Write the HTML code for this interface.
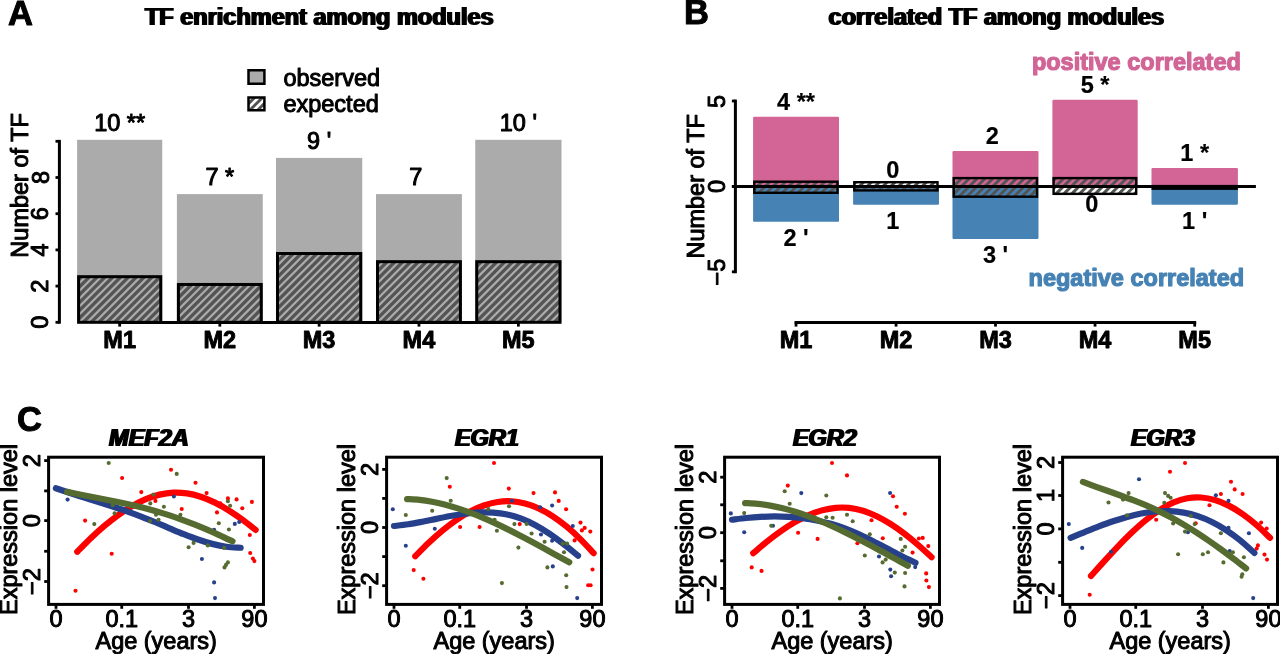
<!DOCTYPE html>
<html lang="en"><head><meta charset="utf-8"><title>TF enrichment among modules</title>
<style>
html,body{margin:0;padding:0;background:#fff;overflow:hidden}
svg{display:block}
text{font-family:"Liberation Sans", Arial, Helvetica, sans-serif;font-size:23.5px;fill:#000}
text{stroke-linejoin:round}
.r{font-weight:400;stroke:#000;stroke-width:1px}
.b{font-weight:700;stroke:#000;stroke-width:.2px}
.m{font-weight:700;stroke:#000;stroke-width:.9px}
.t{font-weight:700}
.bi{font-weight:700;font-style:italic}
.pl{font-weight:700;font-size:34.5px;stroke:#000;stroke-width:1px}
.pk{font-weight:700;fill:#d26496;stroke:#d26496;stroke-width:1.2px}
.bl{font-weight:700;fill:#4682b4;stroke:#4682b4;stroke-width:1.2px}
</style></head><body>
<svg width="1280" height="654" viewBox="0 0 1280 654">
<defs>
<filter id="emb" x="-5%" y="-25%" width="110%" height="150%"><feMorphology operator="dilate" radius="1 0"/></filter>
</defs>
<rect x="0" y="0" width="1280" height="654" fill="#fff"/>
<g id="panelA">
<text class="pl" x="8" y="24.5" text-anchor="start">A</text>
<text class="t" x="319.3" y="25.1" text-anchor="middle" filter="url(#emb)">TF enrichment among modules</text>
<rect x="77.1" y="139.8" width="85.15" height="182.5" fill="#ababab"/>
<rect x="176.9" y="194.1" width="85.85" height="128.2" fill="#ababab"/>
<rect x="276" y="157.9" width="86.25" height="164.4" fill="#ababab"/>
<rect x="376" y="194.1" width="85.9" height="128.2" fill="#ababab"/>
<rect x="475.25" y="139.8" width="86.25" height="182.5" fill="#ababab"/>
<clipPath id="hc1">
<rect x="78.6" y="276.69" width="82.15" height="45.61"/>
<rect x="178.4" y="284.47" width="82.85" height="37.83"/>
<rect x="277.5" y="253.52" width="83.25" height="68.78"/>
<rect x="377.5" y="261.67" width="82.9" height="60.63"/>
<rect x="476.75" y="261.67" width="83.25" height="60.63"/>
</clipPath>
<path clip-path="url(#hc1)" d="M18.45 324.3L68.06 274.69M26.3 324.3L75.91 274.69M34.15 324.3L83.76 274.69M42 324.3L91.61 274.69M49.85 324.3L99.46 274.69M57.7 324.3L107.31 274.69M65.55 324.3L115.16 274.69M73.4 324.3L123.01 274.69M81.25 324.3L130.86 274.69M89.1 324.3L138.71 274.69M96.95 324.3L146.56 274.69M104.8 324.3L154.41 274.69M112.65 324.3L162.26 274.69M120.5 324.3L170.11 274.69M128.35 324.3L177.96 274.69M136.2 324.3L185.81 274.69M144.05 324.3L193.66 274.69M151.9 324.3L201.51 274.69M159.75 324.3L209.36 274.69M167.6 324.3L217.21 274.69M128.35 324.3L170.18 282.47M136.2 324.3L178.03 282.47M144.05 324.3L185.88 282.47M151.9 324.3L193.73 282.47M159.75 324.3L201.58 282.47M167.6 324.3L209.43 282.47M175.45 324.3L217.28 282.47M183.3 324.3L225.13 282.47M191.15 324.3L232.98 282.47M199 324.3L240.83 282.47M206.85 324.3L248.68 282.47M214.7 324.3L256.53 282.47M222.55 324.3L264.38 282.47M230.4 324.3L272.23 282.47M238.25 324.3L280.08 282.47M246.1 324.3L287.93 282.47M253.95 324.3L295.78 282.47M261.8 324.3L303.63 282.47M269.65 324.3L311.48 282.47M191.15 324.3L263.93 251.52M199 324.3L271.78 251.52M206.85 324.3L279.63 251.52M214.7 324.3L287.48 251.52M222.55 324.3L295.33 251.52M230.4 324.3L303.18 251.52M238.25 324.3L311.03 251.52M246.1 324.3L318.88 251.52M253.95 324.3L326.73 251.52M261.8 324.3L334.58 251.52M269.65 324.3L342.43 251.52M277.5 324.3L350.28 251.52M285.35 324.3L358.13 251.52M293.2 324.3L365.98 251.52M301.05 324.3L373.83 251.52M308.9 324.3L381.68 251.52M316.75 324.3L389.53 251.52M324.6 324.3L397.38 251.52M332.45 324.3L405.23 251.52M340.3 324.3L413.08 251.52M348.15 324.3L420.93 251.52M356 324.3L428.78 251.52M363.85 324.3L436.63 251.52M371.7 324.3L444.48 251.52M301.05 324.3L365.69 259.67M308.9 324.3L373.54 259.67M316.75 324.3L381.39 259.67M324.6 324.3L389.23 259.67M332.45 324.3L397.08 259.67M340.3 324.3L404.94 259.67M348.15 324.3L412.79 259.67M356 324.3L420.64 259.67M363.85 324.3L428.48 259.67M371.7 324.3L436.33 259.67M379.55 324.3L444.19 259.67M387.4 324.3L452.04 259.67M395.25 324.3L459.89 259.67M403.1 324.3L467.73 259.67M410.95 324.3L475.58 259.67M418.8 324.3L483.44 259.67M426.65 324.3L491.29 259.67M434.5 324.3L499.13 259.67M442.35 324.3L506.98 259.67M450.2 324.3L514.84 259.67M458.05 324.3L522.68 259.67M465.9 324.3L530.54 259.67M473.75 324.3L538.38 259.67M403.1 324.3L467.73 259.67M410.95 324.3L475.58 259.67M418.8 324.3L483.44 259.67M426.65 324.3L491.29 259.67M434.5 324.3L499.13 259.67M442.35 324.3L506.98 259.67M450.2 324.3L514.84 259.67M458.05 324.3L522.68 259.67M465.9 324.3L530.54 259.67M473.75 324.3L538.38 259.67M481.6 324.3L546.23 259.67M489.45 324.3L554.09 259.67M497.3 324.3L561.93 259.67M505.15 324.3L569.79 259.67M513 324.3L577.63 259.67M520.85 324.3L585.48 259.67M528.7 324.3L593.34 259.67M536.55 324.3L601.18 259.67M544.4 324.3L609.04 259.67M552.25 324.3L616.88 259.67M560.1 324.3L624.73 259.67M567.95 324.3L632.59 259.67" stroke="#545454" stroke-width="3.3" fill="none"/>
<rect x="78.6" y="276.69" width="82.15" height="45.61" fill="none" stroke="#000" stroke-width="3"/>
<text class="r" x="119.67" y="131.05" text-anchor="middle">10 **</text>
<rect x="178.4" y="284.47" width="82.85" height="37.83" fill="none" stroke="#000" stroke-width="3"/>
<text class="r" x="219.82" y="185.35" text-anchor="middle">7 *</text>
<rect x="277.5" y="253.52" width="83.25" height="68.78" fill="none" stroke="#000" stroke-width="3"/>
<text class="r" x="319.12" y="149.15" text-anchor="middle">9 '</text>
<rect x="377.5" y="261.67" width="82.9" height="60.63" fill="none" stroke="#000" stroke-width="3"/>
<text class="r" x="415.68" y="185.35" text-anchor="middle">7</text>
<rect x="476.75" y="261.67" width="83.25" height="60.63" fill="none" stroke="#000" stroke-width="3"/>
<text class="r" x="518.38" y="131.05" text-anchor="middle">10 '</text>
<line x1="118.17" y1="322.5" x2="519.88" y2="322.5" stroke="#000" stroke-width="3" stroke-linecap="butt"/>
<line x1="119.67" y1="322.5" x2="119.67" y2="326.6" stroke="#000" stroke-width="2.8" stroke-linecap="butt"/>
<text class="m" x="119.67" y="347.5" text-anchor="middle">M1</text>
<line x1="219.82" y1="322.5" x2="219.82" y2="326.6" stroke="#000" stroke-width="2.8" stroke-linecap="butt"/>
<text class="m" x="219.82" y="347.5" text-anchor="middle">M2</text>
<line x1="319.12" y1="322.5" x2="319.12" y2="326.6" stroke="#000" stroke-width="2.8" stroke-linecap="butt"/>
<text class="m" x="319.12" y="347.5" text-anchor="middle">M3</text>
<line x1="418.95" y1="322.5" x2="418.95" y2="326.6" stroke="#000" stroke-width="2.8" stroke-linecap="butt"/>
<text class="m" x="418.95" y="347.5" text-anchor="middle">M4</text>
<line x1="518.38" y1="322.5" x2="518.38" y2="326.6" stroke="#000" stroke-width="2.8" stroke-linecap="butt"/>
<text class="m" x="518.38" y="347.5" text-anchor="middle">M5</text>
<line x1="59.4" y1="139.9" x2="59.4" y2="323.7" stroke="#000" stroke-width="3" stroke-linecap="butt"/>
<line x1="55.5" y1="322.3" x2="59.4" y2="322.3" stroke="#000" stroke-width="2.8" stroke-linecap="butt"/>
<line x1="55.5" y1="286.1" x2="59.4" y2="286.1" stroke="#000" stroke-width="2.8" stroke-linecap="butt"/>
<line x1="55.5" y1="249.9" x2="59.4" y2="249.9" stroke="#000" stroke-width="2.8" stroke-linecap="butt"/>
<line x1="55.5" y1="213.7" x2="59.4" y2="213.7" stroke="#000" stroke-width="2.8" stroke-linecap="butt"/>
<line x1="55.5" y1="177.5" x2="59.4" y2="177.5" stroke="#000" stroke-width="2.8" stroke-linecap="butt"/>
<line x1="55.5" y1="141.3" x2="59.4" y2="141.3" stroke="#000" stroke-width="2.8" stroke-linecap="butt"/>
<text class="r" x="48.5" y="322.3" text-anchor="middle" transform="rotate(-90 48.5 322.3)">0</text>
<text class="r" x="48.5" y="286.1" text-anchor="middle" transform="rotate(-90 48.5 286.1)">2</text>
<text class="r" x="48.5" y="249.9" text-anchor="middle" transform="rotate(-90 48.5 249.9)">4</text>
<text class="r" x="48.5" y="213.7" text-anchor="middle" transform="rotate(-90 48.5 213.7)">6</text>
<text class="r" x="48.5" y="177.5" text-anchor="middle" transform="rotate(-90 48.5 177.5)">8</text>
<text class="r" x="28.1" y="185.4" text-anchor="middle" transform="rotate(-90 28.1 185.4)">Number of TF</text>
<rect x="248.5" y="70.25" width="15.9" height="13.5" fill="#ababab" stroke="#000" stroke-width="2.5"/>
<rect x="248.5" y="97.5" width="15.9" height="12.75" fill="#fff"/>
<clipPath id="hc2">
<rect x="248.5" y="97.5" width="15.9" height="12.75"/>
</clipPath>
<path clip-path="url(#hc2)" d="M224.2 112.25L240.95 95.5M232.05 112.25L248.8 95.5M239.9 112.25L256.65 95.5M247.75 112.25L264.5 95.5M255.6 112.25L272.35 95.5M263.45 112.25L280.2 95.5M271.3 112.25L288.05 95.5" stroke="#545454" stroke-width="2.9" fill="none"/>
<rect x="248.5" y="97.5" width="15.9" height="12.75" fill="none" stroke="#000" stroke-width="2.5"/>
<text class="r" x="283.4" y="85.6" text-anchor="start">observed</text>
<text class="r" x="283.4" y="111.9" text-anchor="start">expected</text>
</g>
<g id="panelB">
<text class="pl" x="683.9" y="24.4" text-anchor="start">B</text>
<text class="t" x="996.4" y="25" text-anchor="middle" filter="url(#emb)">correlated TF among modules</text>
<rect x="753.1" y="116.78" width="85.9" height="69.62" fill="#d26496" rx="1.2"/>
<rect x="753.1" y="186.4" width="85.9" height="35.46" fill="#4682b4" rx="1.2"/>
<rect x="853.1" y="186.4" width="85.9" height="18.38" fill="#4682b4" rx="1.2"/>
<rect x="952.5" y="150.94" width="86" height="35.46" fill="#d26496" rx="1.2"/>
<rect x="952.5" y="186.4" width="86" height="52.54" fill="#4682b4" rx="1.2"/>
<rect x="1052.4" y="99.7" width="85.3" height="86.7" fill="#d26496" rx="1.2"/>
<rect x="1151.5" y="168.02" width="86.4" height="18.38" fill="#d26496" rx="1.2"/>
<rect x="1151.5" y="186.4" width="86.4" height="18.38" fill="#4682b4" rx="1.2"/>
<clipPath id="hc3">
<rect x="754.3" y="181.7" width="83.2" height="11.1"/>
<rect x="854.3" y="182.2" width="83.2" height="8.2"/>
<rect x="953.7" y="178.1" width="83.3" height="18.6"/>
<rect x="1053.6" y="178.1" width="82.6" height="15.76"/>
</clipPath>
<path clip-path="url(#hc3)" d="M733.2 194.8L748.3 179.7M741.05 194.8L756.15 179.7M748.9 194.8L764 179.7M756.75 194.8L771.85 179.7M764.6 194.8L779.7 179.7M772.45 194.8L787.55 179.7M780.3 194.8L795.4 179.7M788.15 194.8L803.25 179.7M796 194.8L811.1 179.7M803.85 194.8L818.95 179.7M811.7 194.8L826.8 179.7M819.55 194.8L834.65 179.7M827.4 194.8L842.5 179.7M835.25 194.8L850.35 179.7M843.1 194.8L858.2 179.7M850.95 194.8L866.05 179.7M829.8 192.4L842 180.2M837.65 192.4L849.85 180.2M845.5 192.4L857.7 180.2M853.35 192.4L865.55 180.2M861.2 192.4L873.4 180.2M869.05 192.4L881.25 180.2M876.9 192.4L889.1 180.2M884.75 192.4L896.95 180.2M892.6 192.4L904.8 180.2M900.45 192.4L912.65 180.2M908.3 192.4L920.5 180.2M916.15 192.4L928.35 180.2M924 192.4L936.2 180.2M931.85 192.4L944.05 180.2M939.7 192.4L951.9 180.2M947.55 192.4L959.75 180.2M917.7 198.7L940.3 176.1M925.55 198.7L948.15 176.1M933.4 198.7L956 176.1M941.25 198.7L963.85 176.1M949.1 198.7L971.7 176.1M956.95 198.7L979.55 176.1M964.8 198.7L987.4 176.1M972.65 198.7L995.25 176.1M980.5 198.7L1003.1 176.1M988.35 198.7L1010.95 176.1M996.2 198.7L1018.8 176.1M1004.05 198.7L1026.65 176.1M1011.9 198.7L1034.5 176.1M1019.75 198.7L1042.35 176.1M1027.6 198.7L1050.2 176.1M1035.45 198.7L1058.05 176.1M1043.3 198.7L1065.9 176.1M1022.59 195.86L1042.35 176.1M1030.44 195.86L1050.2 176.1M1038.29 195.86L1058.05 176.1M1046.14 195.86L1065.9 176.1M1053.99 195.86L1073.75 176.1M1061.84 195.86L1081.6 176.1M1069.69 195.86L1089.45 176.1M1077.54 195.86L1097.3 176.1M1085.39 195.86L1105.15 176.1M1093.24 195.86L1113 176.1M1101.09 195.86L1120.85 176.1M1108.94 195.86L1128.7 176.1M1116.79 195.86L1136.55 176.1M1124.64 195.86L1144.4 176.1M1132.49 195.86L1152.25 176.1M1140.34 195.86L1160.1 176.1M1148.19 195.86L1167.95 176.1" stroke="#545454" stroke-width="2.95" fill="none"/>
<rect x="754.3" y="181.7" width="83.2" height="11.1" fill="none" stroke="#000" stroke-width="2.4"/>
<rect x="854.3" y="182.2" width="83.2" height="8.2" fill="none" stroke="#000" stroke-width="2.4"/>
<rect x="953.7" y="178.1" width="83.3" height="18.6" fill="none" stroke="#000" stroke-width="2.4"/>
<rect x="1053.6" y="178.1" width="82.6" height="15.76" fill="none" stroke="#000" stroke-width="2.4"/>
<rect x="1151.5" y="184.9" width="86.4" height="5" fill="#000"/>
<line x1="731.9" y1="186.45" x2="1255.9" y2="186.45" stroke="#000" stroke-width="2.85" stroke-linecap="butt"/>
<text class="b" x="796.05" y="109.58" text-anchor="middle">4 **</text>
<text class="b" x="796.05" y="246.06" text-anchor="middle">2 '</text>
<text class="b" x="892.78" y="177.9" text-anchor="middle">0</text>
<text class="b" x="892.78" y="228.98" text-anchor="middle">1</text>
<text class="b" x="992.23" y="143.74" text-anchor="middle">2</text>
<text class="b" x="995.5" y="263.14" text-anchor="middle">3 '</text>
<text class="b" x="1095.05" y="92.5" text-anchor="middle">5 *</text>
<text class="b" x="1091.78" y="211.9" text-anchor="middle">0</text>
<text class="b" x="1194.7" y="160.82" text-anchor="middle">1 *</text>
<text class="b" x="1194.7" y="228.98" text-anchor="middle">1 '</text>
<line x1="735.4" y1="99.6" x2="735.4" y2="273.2" stroke="#000" stroke-width="3" stroke-linecap="butt"/>
<line x1="731.9" y1="101" x2="735.4" y2="101" stroke="#000" stroke-width="2.8" stroke-linecap="butt"/>
<line x1="731.9" y1="186.4" x2="735.4" y2="186.4" stroke="#000" stroke-width="2.8" stroke-linecap="butt"/>
<line x1="731.9" y1="271.8" x2="735.4" y2="271.8" stroke="#000" stroke-width="2.8" stroke-linecap="butt"/>
<text class="r" x="724.75" y="101.4" text-anchor="middle" transform="rotate(-90 724.75 101.4)">5</text>
<text class="r" x="724.75" y="186.4" text-anchor="middle" transform="rotate(-90 724.75 186.4)">0</text>
<text class="r" x="724.75" y="272" text-anchor="middle" transform="rotate(-90 724.75 272)">−5</text>
<text class="r" x="704.2" y="186.3" text-anchor="middle" transform="rotate(-90 704.2 186.3)">Number of TF</text>
<line x1="794.55" y1="322.5" x2="1196.2" y2="322.5" stroke="#000" stroke-width="3" stroke-linecap="butt"/>
<line x1="796.05" y1="322.5" x2="796.05" y2="326.6" stroke="#000" stroke-width="2.8" stroke-linecap="butt"/>
<text class="m" x="796.05" y="347.5" text-anchor="middle">M1</text>
<line x1="896.05" y1="322.5" x2="896.05" y2="326.6" stroke="#000" stroke-width="2.8" stroke-linecap="butt"/>
<text class="m" x="896.05" y="347.5" text-anchor="middle">M2</text>
<line x1="995.5" y1="322.5" x2="995.5" y2="326.6" stroke="#000" stroke-width="2.8" stroke-linecap="butt"/>
<text class="m" x="995.5" y="347.5" text-anchor="middle">M3</text>
<line x1="1095.05" y1="322.5" x2="1095.05" y2="326.6" stroke="#000" stroke-width="2.8" stroke-linecap="butt"/>
<text class="m" x="1095.05" y="347.5" text-anchor="middle">M4</text>
<line x1="1194.7" y1="322.5" x2="1194.7" y2="326.6" stroke="#000" stroke-width="2.8" stroke-linecap="butt"/>
<text class="m" x="1194.7" y="347.5" text-anchor="middle">M5</text>
<text class="pk" x="1031.9" y="70" text-anchor="start">positive correlated</text>
<text class="bl" x="1028.6" y="286.25" text-anchor="start">negative correlated</text>
</g>
<g id="panelC">
<text class="pl" x="17.1" y="430.6" text-anchor="start">C</text>
<g id="sub1">
<circle cx="122.1" cy="478" r="2.05" fill="#ff0000"/>
<circle cx="85.1" cy="520.6" r="2.05" fill="#ff0000"/>
<circle cx="141.3" cy="492.1" r="2.05" fill="#ff0000"/>
<circle cx="155.4" cy="500.9" r="2.05" fill="#ff0000"/>
<circle cx="171" cy="469.8" r="2.05" fill="#ff0000"/>
<circle cx="195.5" cy="482.7" r="2.05" fill="#ff0000"/>
<circle cx="181.7" cy="509" r="2.05" fill="#ff0000"/>
<circle cx="206.6" cy="493.1" r="2.05" fill="#ff0000"/>
<circle cx="227.9" cy="498.4" r="2.05" fill="#ff0000"/>
<circle cx="236.6" cy="499.4" r="2.05" fill="#ff0000"/>
<circle cx="251.9" cy="501.9" r="2.05" fill="#ff0000"/>
<circle cx="242.3" cy="508.2" r="2.05" fill="#ff0000"/>
<circle cx="217" cy="512.4" r="2.05" fill="#ff0000"/>
<circle cx="220.3" cy="503.4" r="2.05" fill="#ff0000"/>
<circle cx="111.7" cy="553.8" r="2.05" fill="#ff0000"/>
<circle cx="75.5" cy="590.8" r="2.05" fill="#ff0000"/>
<circle cx="249.8" cy="535" r="2.05" fill="#ff0000"/>
<circle cx="250.2" cy="553" r="2.05" fill="#ff0000"/>
<circle cx="252.9" cy="558.6" r="2.05" fill="#ff0000"/>
<circle cx="254.4" cy="561.1" r="2.05" fill="#ff0000"/>
<path d="M77.25 551.8C79.54 549.51 86.4 542.39 90.97 538.04C95.54 533.68 100.12 529.52 104.69 525.67C109.26 521.81 113.84 518.19 118.41 514.91C122.98 511.63 127.56 508.62 132.13 506C136.7 503.38 141.28 501.06 145.85 499.17C150.42 497.28 155 495.72 159.57 494.63C164.14 493.54 168.71 492.84 173.28 492.62C177.85 492.4 182.43 492.66 187 493.34C191.57 494.02 196.15 495.19 200.72 496.7C205.29 498.2 209.87 500.15 214.44 502.37C219.01 504.59 223.59 507.2 228.16 510.02C232.73 512.84 237.31 516 241.88 519.31C246.45 522.62 253.31 528.13 255.6 529.9" fill="none" stroke="#ff0000" stroke-width="6.2" stroke-linecap="round" stroke-linejoin="round"/>
<circle cx="67.6" cy="499.6" r="2.05" fill="#27408b"/>
<circle cx="173.9" cy="496.5" r="2.05" fill="#27408b"/>
<circle cx="234.8" cy="523.9" r="2.05" fill="#27408b"/>
<circle cx="239.2" cy="522" r="2.05" fill="#27408b"/>
<circle cx="214.1" cy="529.7" r="2.05" fill="#27408b"/>
<circle cx="201.9" cy="559" r="2.05" fill="#27408b"/>
<circle cx="214.1" cy="582.4" r="2.05" fill="#27408b"/>
<circle cx="215" cy="598.1" r="2.05" fill="#27408b"/>
<path d="M55.9 488.31C58.27 489.1 65.37 491.5 70.11 493.04C74.85 494.58 79.58 496.06 84.32 497.56C89.05 499.06 93.78 500.51 98.52 502.01C103.25 503.51 107.99 505 112.73 506.55C117.47 508.11 122.2 509.67 126.94 511.34C131.68 513 136.42 514.72 141.15 516.54C145.88 518.36 150.62 520.3 155.35 522.26C160.08 524.22 164.82 526.3 169.56 528.29C174.3 530.28 179.03 532.32 183.77 534.2C188.51 536.08 193.25 537.94 197.98 539.55C202.71 541.16 207.44 542.68 212.18 543.88C216.92 545.08 221.65 546.12 226.39 546.77C231.13 547.42 238.23 547.6 240.6 547.76" fill="none" stroke="#27408b" stroke-width="6.2" stroke-linecap="round" stroke-linejoin="round"/>
<circle cx="108.7" cy="463" r="2.05" fill="#556b2f"/>
<circle cx="94.3" cy="524.1" r="2.05" fill="#556b2f"/>
<circle cx="114.6" cy="513.2" r="2.05" fill="#556b2f"/>
<circle cx="112.7" cy="505.3" r="2.05" fill="#556b2f"/>
<circle cx="153.5" cy="494.6" r="2.05" fill="#556b2f"/>
<circle cx="150.3" cy="503.4" r="2.05" fill="#556b2f"/>
<circle cx="176.7" cy="473.9" r="2.05" fill="#556b2f"/>
<circle cx="163.9" cy="506.8" r="2.05" fill="#556b2f"/>
<circle cx="180.4" cy="514.7" r="2.05" fill="#556b2f"/>
<circle cx="156" cy="514.7" r="2.05" fill="#556b2f"/>
<circle cx="158.5" cy="519.7" r="2.05" fill="#556b2f"/>
<circle cx="150.1" cy="521" r="2.05" fill="#556b2f"/>
<circle cx="227.9" cy="501.2" r="2.05" fill="#556b2f"/>
<circle cx="230.1" cy="505.7" r="2.05" fill="#556b2f"/>
<circle cx="218.8" cy="523.2" r="2.05" fill="#556b2f"/>
<circle cx="228.9" cy="529.5" r="2.05" fill="#556b2f"/>
<circle cx="188.6" cy="547.3" r="2.05" fill="#556b2f"/>
<circle cx="193.6" cy="542.9" r="2.05" fill="#556b2f"/>
<circle cx="207.8" cy="545.4" r="2.05" fill="#556b2f"/>
<circle cx="224.1" cy="547.9" r="2.05" fill="#556b2f"/>
<circle cx="227.9" cy="562.4" r="2.05" fill="#556b2f"/>
<circle cx="226" cy="564.9" r="2.05" fill="#556b2f"/>
<circle cx="224.5" cy="567.4" r="2.05" fill="#556b2f"/>
<path d="M67 491.86C69.12 492.31 75.49 493.7 79.73 494.57C83.97 495.44 88.22 496.25 92.46 497.07C96.7 497.89 100.95 498.67 105.19 499.49C109.43 500.31 113.68 501.11 117.92 501.97C122.16 502.83 126.41 503.71 130.65 504.66C134.89 505.61 139.13 506.6 143.38 507.68C147.62 508.76 151.88 509.93 156.12 511.17C160.37 512.41 164.61 513.74 168.85 515.14C173.09 516.54 177.34 518.02 181.58 519.57C185.82 521.12 190.07 522.75 194.31 524.43C198.55 526.11 202.8 527.87 207.04 529.68C211.28 531.49 215.53 533.38 219.77 535.31C224.01 537.24 230.38 540.29 232.5 541.29" fill="none" stroke="#556b2f" stroke-width="6.2" stroke-linecap="round" stroke-linejoin="round"/>
<rect x="48.6" y="457.2" width="214.9" height="147.2" fill="none" stroke="#000" stroke-width="3"/>
<line x1="56" y1="604.4" x2="56" y2="608.8" stroke="#000" stroke-width="2.8" stroke-linecap="butt"/>
<text class="r" x="56" y="627" text-anchor="middle">0</text>
<line x1="121.75" y1="604.4" x2="121.75" y2="608.8" stroke="#000" stroke-width="2.8" stroke-linecap="butt"/>
<text class="r" x="121.75" y="627" text-anchor="middle">0.1</text>
<line x1="188.5" y1="604.4" x2="188.5" y2="608.8" stroke="#000" stroke-width="2.8" stroke-linecap="butt"/>
<text class="r" x="188.5" y="627" text-anchor="middle">3</text>
<line x1="254.4" y1="604.4" x2="254.4" y2="608.8" stroke="#000" stroke-width="2.8" stroke-linecap="butt"/>
<text class="r" x="254.4" y="627" text-anchor="middle">90</text>
<text class="r" x="156.2" y="648.75" text-anchor="middle">Age (years)</text>
<line x1="44.2" y1="460.6" x2="48.6" y2="460.6" stroke="#000" stroke-width="2.8" stroke-linecap="butt"/>
<text class="r" x="39.75" y="460.6" text-anchor="middle" transform="rotate(-90 39.75 460.6)">2</text>
<line x1="44.2" y1="490.9" x2="48.6" y2="490.9" stroke="#000" stroke-width="2.8" stroke-linecap="butt"/>
<line x1="44.2" y1="520.6" x2="48.6" y2="520.6" stroke="#000" stroke-width="2.8" stroke-linecap="butt"/>
<text class="r" x="39.75" y="520.6" text-anchor="middle" transform="rotate(-90 39.75 520.6)">0</text>
<line x1="44.2" y1="551.25" x2="48.6" y2="551.25" stroke="#000" stroke-width="2.8" stroke-linecap="butt"/>
<line x1="44.2" y1="581.5" x2="48.6" y2="581.5" stroke="#000" stroke-width="2.8" stroke-linecap="butt"/>
<text class="r" x="39.75" y="581.5" text-anchor="middle" transform="rotate(-90 39.75 581.5)">−2</text>
<text class="r" x="17" y="529.5" text-anchor="middle" transform="rotate(-90 17 529.5)">Expression level</text>
<text class="bi" x="148.9" y="445.7" text-anchor="middle" filter="url(#emb)">MEF2A</text>
</g>
<g id="sub2">
<circle cx="494" cy="463" r="2.05" fill="#ff0000"/>
<circle cx="449.8" cy="486.7" r="2.05" fill="#ff0000"/>
<circle cx="508.8" cy="488.6" r="2.05" fill="#ff0000"/>
<circle cx="533.5" cy="493.1" r="2.05" fill="#ff0000"/>
<circle cx="460.1" cy="527" r="2.05" fill="#ff0000"/>
<circle cx="479.6" cy="527" r="2.05" fill="#ff0000"/>
<circle cx="519.7" cy="524.1" r="2.05" fill="#ff0000"/>
<circle cx="555" cy="492.4" r="2.05" fill="#ff0000"/>
<circle cx="558.7" cy="500.9" r="2.05" fill="#ff0000"/>
<circle cx="566.1" cy="509.3" r="2.05" fill="#ff0000"/>
<circle cx="580.5" cy="522.6" r="2.05" fill="#ff0000"/>
<circle cx="584.7" cy="527.9" r="2.05" fill="#ff0000"/>
<circle cx="581.9" cy="530.4" r="2.05" fill="#ff0000"/>
<circle cx="590.3" cy="531.6" r="2.05" fill="#ff0000"/>
<circle cx="413.7" cy="570.1" r="2.05" fill="#ff0000"/>
<circle cx="423.4" cy="578.7" r="2.05" fill="#ff0000"/>
<circle cx="592.5" cy="569.5" r="2.05" fill="#ff0000"/>
<circle cx="588.2" cy="585.3" r="2.05" fill="#ff0000"/>
<circle cx="590.6" cy="585.3" r="2.05" fill="#ff0000"/>
<circle cx="574.6" cy="540.4" r="2.05" fill="#ff0000"/>
<path d="M415.25 556.26C417.54 553.98 424.4 546.87 428.97 542.56C433.54 538.25 438.12 534.14 442.69 530.38C447.26 526.62 451.84 523.11 456.41 519.98C460.98 516.85 465.56 514.02 470.13 511.61C474.7 509.2 479.28 507.13 483.85 505.53C488.42 503.93 493 502.7 497.57 501.99C502.14 501.28 506.71 501 511.28 501.24C515.85 501.48 520.43 502.24 525 503.44C529.57 504.64 534.15 506.34 538.72 508.45C543.29 510.56 547.87 513.13 552.44 516.09C557.01 519.05 561.59 522.45 566.16 526.21C570.73 529.97 575.31 534.14 579.88 538.63C584.45 543.12 591.31 550.75 593.6 553.17" fill="none" stroke="#ff0000" stroke-width="6.2" stroke-linecap="round" stroke-linejoin="round"/>
<circle cx="392.8" cy="509.3" r="2.05" fill="#27408b"/>
<circle cx="511.9" cy="500.7" r="2.05" fill="#27408b"/>
<circle cx="434.8" cy="528.7" r="2.05" fill="#27408b"/>
<circle cx="552.1" cy="505.5" r="2.05" fill="#27408b"/>
<circle cx="540.2" cy="507.2" r="2.05" fill="#27408b"/>
<circle cx="572.8" cy="526" r="2.05" fill="#27408b"/>
<circle cx="405.8" cy="545.8" r="2.05" fill="#27408b"/>
<circle cx="577.2" cy="598.1" r="2.05" fill="#27408b"/>
<circle cx="552.8" cy="566.4" r="2.05" fill="#27408b"/>
<circle cx="541" cy="534.5" r="2.05" fill="#27408b"/>
<circle cx="552.1" cy="540.8" r="2.05" fill="#27408b"/>
<path d="M394 525.99C396.36 525.71 403.43 524.99 408.15 524.28C412.87 523.57 417.59 522.66 422.31 521.76C427.03 520.86 431.74 519.82 436.46 518.87C441.18 517.92 445.9 516.91 450.62 516.06C455.34 515.21 460.05 514.37 464.77 513.77C469.49 513.17 474.2 512.66 478.92 512.45C483.64 512.25 488.36 512.2 493.08 512.54C497.8 512.88 502.51 513.46 507.23 514.48C511.95 515.5 516.66 516.91 521.38 518.69C526.1 520.47 530.82 522.66 535.54 525.18C540.26 527.7 544.97 530.64 549.69 533.82C554.41 537 559.13 540.63 563.85 544.28C568.57 547.92 575.64 553.79 578 555.69" fill="none" stroke="#27408b" stroke-width="6.2" stroke-linecap="round" stroke-linejoin="round"/>
<circle cx="446.7" cy="478.1" r="2.05" fill="#556b2f"/>
<circle cx="405.8" cy="515" r="2.05" fill="#556b2f"/>
<circle cx="432.2" cy="510.7" r="2.05" fill="#556b2f"/>
<circle cx="450.7" cy="500.7" r="2.05" fill="#556b2f"/>
<circle cx="509" cy="506.3" r="2.05" fill="#556b2f"/>
<circle cx="488.3" cy="509" r="2.05" fill="#556b2f"/>
<circle cx="494.6" cy="519.7" r="2.05" fill="#556b2f"/>
<circle cx="514.4" cy="524.1" r="2.05" fill="#556b2f"/>
<circle cx="526.6" cy="523.9" r="2.05" fill="#556b2f"/>
<circle cx="496.9" cy="530.7" r="2.05" fill="#556b2f"/>
<circle cx="531.6" cy="533.5" r="2.05" fill="#556b2f"/>
<circle cx="501.9" cy="583.1" r="2.05" fill="#556b2f"/>
<circle cx="518.4" cy="547.6" r="2.05" fill="#556b2f"/>
<circle cx="566.5" cy="587.1" r="2.05" fill="#556b2f"/>
<circle cx="566.2" cy="575.2" r="2.05" fill="#556b2f"/>
<circle cx="547.4" cy="567.4" r="2.05" fill="#556b2f"/>
<circle cx="544.6" cy="541.7" r="2.05" fill="#556b2f"/>
<circle cx="562.7" cy="543.6" r="2.05" fill="#556b2f"/>
<circle cx="567.1" cy="543.6" r="2.05" fill="#556b2f"/>
<circle cx="564" cy="552.3" r="2.05" fill="#556b2f"/>
<path d="M407.1 499.08C409.18 499.22 415.41 499.46 419.57 499.9C423.73 500.34 427.89 500.97 432.05 501.74C436.21 502.51 440.36 503.44 444.52 504.5C448.68 505.56 452.83 506.77 456.99 508.09C461.15 509.41 465.31 510.86 469.47 512.41C473.63 513.96 477.78 515.62 481.94 517.37C486.1 519.12 490.25 520.98 494.41 522.89C498.57 524.8 502.72 526.81 506.88 528.86C511.04 530.91 515.2 533.03 519.36 535.19C523.52 537.35 527.67 539.57 531.83 541.8C535.99 544.03 540.14 546.31 544.3 548.58C548.46 550.86 552.62 553.16 556.78 555.45C560.94 557.74 567.17 561.17 569.25 562.31" fill="none" stroke="#556b2f" stroke-width="6.2" stroke-linecap="round" stroke-linejoin="round"/>
<rect x="386.6" y="457.2" width="214.9" height="147.2" fill="none" stroke="#000" stroke-width="3"/>
<line x1="394" y1="604.4" x2="394" y2="608.8" stroke="#000" stroke-width="2.8" stroke-linecap="butt"/>
<text class="r" x="394" y="627" text-anchor="middle">0</text>
<line x1="459.75" y1="604.4" x2="459.75" y2="608.8" stroke="#000" stroke-width="2.8" stroke-linecap="butt"/>
<text class="r" x="459.75" y="627" text-anchor="middle">0.1</text>
<line x1="526.5" y1="604.4" x2="526.5" y2="608.8" stroke="#000" stroke-width="2.8" stroke-linecap="butt"/>
<text class="r" x="526.5" y="627" text-anchor="middle">3</text>
<line x1="592.4" y1="604.4" x2="592.4" y2="608.8" stroke="#000" stroke-width="2.8" stroke-linecap="butt"/>
<text class="r" x="592.4" y="627" text-anchor="middle">90</text>
<text class="r" x="494.2" y="648.75" text-anchor="middle">Age (years)</text>
<line x1="382.2" y1="469.4" x2="386.6" y2="469.4" stroke="#000" stroke-width="2.8" stroke-linecap="butt"/>
<text class="r" x="377.75" y="469.4" text-anchor="middle" transform="rotate(-90 377.75 469.4)">2</text>
<line x1="382.2" y1="498.4" x2="386.6" y2="498.4" stroke="#000" stroke-width="2.8" stroke-linecap="butt"/>
<line x1="382.2" y1="527.5" x2="386.6" y2="527.5" stroke="#000" stroke-width="2.8" stroke-linecap="butt"/>
<text class="r" x="377.75" y="527.5" text-anchor="middle" transform="rotate(-90 377.75 527.5)">0</text>
<line x1="382.2" y1="556.6" x2="386.6" y2="556.6" stroke="#000" stroke-width="2.8" stroke-linecap="butt"/>
<line x1="382.2" y1="585.7" x2="386.6" y2="585.7" stroke="#000" stroke-width="2.8" stroke-linecap="butt"/>
<text class="r" x="377.75" y="585.7" text-anchor="middle" transform="rotate(-90 377.75 585.7)">−2</text>
<text class="r" x="355" y="529.5" text-anchor="middle" transform="rotate(-90 355 529.5)">Expression level</text>
<text class="bi" x="486.9" y="445.7" text-anchor="middle" filter="url(#emb)">EGR1</text>
</g>
<g id="sub3">
<circle cx="832" cy="463" r="2.05" fill="#ff0000"/>
<circle cx="847" cy="475.4" r="2.05" fill="#ff0000"/>
<circle cx="787.8" cy="485.6" r="2.05" fill="#ff0000"/>
<circle cx="798.1" cy="532.8" r="2.05" fill="#ff0000"/>
<circle cx="871.5" cy="520.3" r="2.05" fill="#ff0000"/>
<circle cx="893" cy="496.3" r="2.05" fill="#ff0000"/>
<circle cx="896.7" cy="506.8" r="2.05" fill="#ff0000"/>
<circle cx="904.9" cy="513.8" r="2.05" fill="#ff0000"/>
<circle cx="817.6" cy="538.9" r="2.05" fill="#ff0000"/>
<circle cx="751.7" cy="567.4" r="2.05" fill="#ff0000"/>
<circle cx="761.5" cy="570.9" r="2.05" fill="#ff0000"/>
<circle cx="857.4" cy="543.3" r="2.05" fill="#ff0000"/>
<circle cx="882.8" cy="538.2" r="2.05" fill="#ff0000"/>
<circle cx="912.6" cy="552.6" r="2.05" fill="#ff0000"/>
<circle cx="922.7" cy="537.9" r="2.05" fill="#ff0000"/>
<circle cx="918.9" cy="538.5" r="2.05" fill="#ff0000"/>
<circle cx="928.3" cy="546.1" r="2.05" fill="#ff0000"/>
<circle cx="926.2" cy="573.4" r="2.05" fill="#ff0000"/>
<circle cx="926.4" cy="580.5" r="2.05" fill="#ff0000"/>
<circle cx="928.9" cy="587.1" r="2.05" fill="#ff0000"/>
<path d="M753.25 553.16C755.54 551.23 762.4 545.23 766.97 541.57C771.54 537.91 776.12 534.41 780.69 531.21C785.26 528.01 789.84 525.02 794.41 522.37C798.98 519.72 803.56 517.33 808.13 515.33C812.7 513.33 817.28 511.63 821.85 510.38C826.42 509.13 831 508.22 835.57 507.81C840.14 507.4 844.71 507.41 849.28 507.91C853.85 508.41 858.43 509.42 863 510.81C867.57 512.2 872.15 514.06 876.72 516.24C881.29 518.42 885.87 521.04 890.44 523.92C895.01 526.8 899.59 530.05 904.16 533.52C908.73 536.99 913.31 540.77 917.88 544.73C922.45 548.69 929.31 555.16 931.6 557.25" fill="none" stroke="#ff0000" stroke-width="6.2" stroke-linecap="round" stroke-linejoin="round"/>
<circle cx="801.3" cy="493.1" r="2.05" fill="#27408b"/>
<circle cx="730.8" cy="513.4" r="2.05" fill="#27408b"/>
<circle cx="773" cy="525.7" r="2.05" fill="#27408b"/>
<circle cx="744.2" cy="532.2" r="2.05" fill="#27408b"/>
<circle cx="890.1" cy="493" r="2.05" fill="#27408b"/>
<circle cx="879" cy="556.5" r="2.05" fill="#27408b"/>
<circle cx="890.3" cy="569.6" r="2.05" fill="#27408b"/>
<circle cx="891.1" cy="576.2" r="2.05" fill="#27408b"/>
<circle cx="915.2" cy="567.1" r="2.05" fill="#27408b"/>
<path d="M732 519.71C734.35 519.43 741.41 518.47 746.12 518C750.83 517.53 755.52 517.13 760.23 516.88C764.94 516.62 769.64 516.47 774.35 516.47C779.06 516.47 783.75 516.58 788.46 516.86C793.17 517.14 797.88 517.55 802.58 518.15C807.29 518.75 811.99 519.49 816.69 520.44C821.39 521.39 826.11 522.5 830.81 523.84C835.51 525.18 840.21 526.7 844.92 528.45C849.62 530.2 854.33 532.2 859.04 534.33C863.75 536.46 868.44 538.84 873.15 541.22C877.86 543.6 882.56 546.14 887.27 548.6C891.98 551.06 896.67 553.6 901.38 555.96C906.09 558.32 913.15 561.64 915.5 562.78" fill="none" stroke="#27408b" stroke-width="6.2" stroke-linecap="round" stroke-linejoin="round"/>
<circle cx="784.7" cy="491.2" r="2.05" fill="#556b2f"/>
<circle cx="826.3" cy="495.5" r="2.05" fill="#556b2f"/>
<circle cx="789.7" cy="503.8" r="2.05" fill="#556b2f"/>
<circle cx="744.2" cy="513.1" r="2.05" fill="#556b2f"/>
<circle cx="771.2" cy="525.7" r="2.05" fill="#556b2f"/>
<circle cx="847" cy="514.7" r="2.05" fill="#556b2f"/>
<circle cx="852.7" cy="521.2" r="2.05" fill="#556b2f"/>
<circle cx="826.3" cy="517.2" r="2.05" fill="#556b2f"/>
<circle cx="832.6" cy="517.8" r="2.05" fill="#556b2f"/>
<circle cx="869.8" cy="534.2" r="2.05" fill="#556b2f"/>
<circle cx="839.9" cy="598.4" r="2.05" fill="#556b2f"/>
<circle cx="864.8" cy="555.5" r="2.05" fill="#556b2f"/>
<circle cx="900.7" cy="538.9" r="2.05" fill="#556b2f"/>
<circle cx="905.1" cy="546.7" r="2.05" fill="#556b2f"/>
<circle cx="902.4" cy="550.5" r="2.05" fill="#556b2f"/>
<circle cx="885.7" cy="559.6" r="2.05" fill="#556b2f"/>
<circle cx="882.6" cy="562.4" r="2.05" fill="#556b2f"/>
<circle cx="894.8" cy="572.6" r="2.05" fill="#556b2f"/>
<circle cx="905.1" cy="573" r="2.05" fill="#556b2f"/>
<circle cx="904.5" cy="586.4" r="2.05" fill="#556b2f"/>
<path d="M745.1 503.08C747.19 503.21 753.45 503.43 757.62 503.85C761.79 504.27 765.98 504.88 770.15 505.62C774.32 506.36 778.5 507.27 782.67 508.31C786.84 509.35 791.02 510.53 795.19 511.83C799.37 513.12 803.55 514.55 807.72 516.08C811.89 517.61 816.07 519.26 820.24 520.99C824.41 522.72 828.59 524.55 832.76 526.45C836.93 528.35 841.11 530.33 845.28 532.37C849.45 534.41 853.63 536.53 857.81 538.68C861.98 540.83 866.16 543.03 870.33 545.26C874.5 547.49 878.68 549.76 882.85 552.03C887.02 554.3 891.21 556.61 895.38 558.89C899.55 561.17 905.81 564.59 907.9 565.73" fill="none" stroke="#556b2f" stroke-width="6.2" stroke-linecap="round" stroke-linejoin="round"/>
<rect x="724.6" y="457.2" width="214.9" height="147.2" fill="none" stroke="#000" stroke-width="3"/>
<line x1="732" y1="604.4" x2="732" y2="608.8" stroke="#000" stroke-width="2.8" stroke-linecap="butt"/>
<text class="r" x="732" y="627" text-anchor="middle">0</text>
<line x1="797.75" y1="604.4" x2="797.75" y2="608.8" stroke="#000" stroke-width="2.8" stroke-linecap="butt"/>
<text class="r" x="797.75" y="627" text-anchor="middle">0.1</text>
<line x1="864.5" y1="604.4" x2="864.5" y2="608.8" stroke="#000" stroke-width="2.8" stroke-linecap="butt"/>
<text class="r" x="864.5" y="627" text-anchor="middle">3</text>
<line x1="930.4" y1="604.4" x2="930.4" y2="608.8" stroke="#000" stroke-width="2.8" stroke-linecap="butt"/>
<text class="r" x="930.4" y="627" text-anchor="middle">90</text>
<text class="r" x="832.2" y="648.75" text-anchor="middle">Age (years)</text>
<line x1="720.2" y1="477.2" x2="724.6" y2="477.2" stroke="#000" stroke-width="2.8" stroke-linecap="butt"/>
<text class="r" x="715.75" y="477.2" text-anchor="middle" transform="rotate(-90 715.75 477.2)">2</text>
<line x1="720.2" y1="504.8" x2="724.6" y2="504.8" stroke="#000" stroke-width="2.8" stroke-linecap="butt"/>
<line x1="720.2" y1="532.7" x2="724.6" y2="532.7" stroke="#000" stroke-width="2.8" stroke-linecap="butt"/>
<text class="r" x="715.75" y="532.7" text-anchor="middle" transform="rotate(-90 715.75 532.7)">0</text>
<line x1="720.2" y1="560.8" x2="724.6" y2="560.8" stroke="#000" stroke-width="2.8" stroke-linecap="butt"/>
<line x1="720.2" y1="588.4" x2="724.6" y2="588.4" stroke="#000" stroke-width="2.8" stroke-linecap="butt"/>
<text class="r" x="715.75" y="588.4" text-anchor="middle" transform="rotate(-90 715.75 588.4)">−2</text>
<text class="r" x="693" y="529.5" text-anchor="middle" transform="rotate(-90 693 529.5)">Expression level</text>
<text class="bi" x="824.9" y="445.7" text-anchor="middle" filter="url(#emb)">EGR2</text>
</g>
<g id="sub4">
<circle cx="1185" cy="463" r="2.05" fill="#ff0000"/>
<circle cx="1170" cy="471.8" r="2.05" fill="#ff0000"/>
<circle cx="1156.2" cy="519.7" r="2.05" fill="#ff0000"/>
<circle cx="1209.5" cy="505.3" r="2.05" fill="#ff0000"/>
<circle cx="1195.7" cy="523.2" r="2.05" fill="#ff0000"/>
<circle cx="1231" cy="481.8" r="2.05" fill="#ff0000"/>
<circle cx="1234.7" cy="489.4" r="2.05" fill="#ff0000"/>
<circle cx="1242.6" cy="494" r="2.05" fill="#ff0000"/>
<circle cx="1220.9" cy="494" r="2.05" fill="#ff0000"/>
<circle cx="1261.1" cy="522.6" r="2.05" fill="#ff0000"/>
<circle cx="1266.7" cy="528.5" r="2.05" fill="#ff0000"/>
<circle cx="1089.7" cy="594.7" r="2.05" fill="#ff0000"/>
<circle cx="1257.9" cy="545.4" r="2.05" fill="#ff0000"/>
<circle cx="1256.7" cy="548.6" r="2.05" fill="#ff0000"/>
<circle cx="1264.5" cy="554.6" r="2.05" fill="#ff0000"/>
<circle cx="1267" cy="559.6" r="2.05" fill="#ff0000"/>
<path d="M1091 575.91C1093.3 573.36 1100.18 565.63 1104.77 560.61C1109.36 555.59 1113.95 550.57 1118.54 545.81C1123.13 541.05 1127.72 536.39 1132.31 532.07C1136.9 527.75 1141.49 523.6 1146.08 519.9C1150.67 516.2 1155.26 512.76 1159.85 509.85C1164.44 506.94 1169.03 504.38 1173.62 502.44C1178.21 500.5 1182.79 499.04 1187.38 498.21C1191.97 497.38 1196.56 497.17 1201.15 497.47C1205.74 497.77 1210.33 498.67 1214.92 500.03C1219.51 501.39 1224.1 503.29 1228.69 505.61C1233.28 507.93 1237.87 510.75 1242.46 513.94C1247.05 517.13 1251.64 520.78 1256.23 524.75C1260.82 528.72 1267.7 535.58 1270 537.75" fill="none" stroke="#ff0000" stroke-width="6.2" stroke-linecap="round" stroke-linejoin="round"/>
<circle cx="1139" cy="479.3" r="2.05" fill="#27408b"/>
<circle cx="1068.8" cy="524.1" r="2.05" fill="#27408b"/>
<circle cx="1187.9" cy="532.3" r="2.05" fill="#27408b"/>
<circle cx="1215.9" cy="495.3" r="2.05" fill="#27408b"/>
<circle cx="1228.5" cy="500.9" r="2.05" fill="#27408b"/>
<circle cx="1248.9" cy="533.3" r="2.05" fill="#27408b"/>
<circle cx="1228.5" cy="527.9" r="2.05" fill="#27408b"/>
<circle cx="1082.2" cy="547.9" r="2.05" fill="#27408b"/>
<circle cx="1111.1" cy="551.7" r="2.05" fill="#27408b"/>
<circle cx="1229.7" cy="551.1" r="2.05" fill="#27408b"/>
<circle cx="1253.2" cy="598.1" r="2.05" fill="#27408b"/>
<path d="M1070.6 537.87C1072.96 536.9 1080.03 533.95 1084.74 532.04C1089.45 530.13 1094.17 528.2 1098.88 526.41C1103.59 524.62 1108.31 522.86 1113.02 521.27C1117.73 519.68 1122.44 518.18 1127.15 516.89C1131.86 515.6 1136.58 514.44 1141.29 513.55C1146 512.66 1150.72 511.94 1155.43 511.53C1160.14 511.12 1164.86 510.94 1169.57 511.11C1174.28 511.29 1179 511.74 1183.71 512.58C1188.42 513.43 1193.14 514.61 1197.85 516.18C1202.56 517.75 1207.27 519.69 1211.98 522C1216.69 524.31 1221.41 526.99 1226.12 530.06C1230.83 533.13 1235.55 536.58 1240.26 540.41C1244.97 544.24 1252.04 550.94 1254.4 553.05" fill="none" stroke="#27408b" stroke-width="6.2" stroke-linecap="round" stroke-linejoin="round"/>
<circle cx="1128.6" cy="493.1" r="2.05" fill="#556b2f"/>
<circle cx="1165" cy="493.1" r="2.05" fill="#556b2f"/>
<circle cx="1168.1" cy="495.9" r="2.05" fill="#556b2f"/>
<circle cx="1170.6" cy="497.8" r="2.05" fill="#556b2f"/>
<circle cx="1164.3" cy="502.8" r="2.05" fill="#556b2f"/>
<circle cx="1108.5" cy="502.5" r="2.05" fill="#556b2f"/>
<circle cx="1123" cy="499.6" r="2.05" fill="#556b2f"/>
<circle cx="1127" cy="515.3" r="2.05" fill="#556b2f"/>
<circle cx="1173.1" cy="523.5" r="2.05" fill="#556b2f"/>
<circle cx="1190.7" cy="516" r="2.05" fill="#556b2f"/>
<circle cx="1194.7" cy="524.1" r="2.05" fill="#556b2f"/>
<circle cx="1185" cy="531.6" r="2.05" fill="#556b2f"/>
<circle cx="1220.9" cy="533.3" r="2.05" fill="#556b2f"/>
<circle cx="1178.1" cy="554.2" r="2.05" fill="#556b2f"/>
<circle cx="1202.8" cy="554.2" r="2.05" fill="#556b2f"/>
<circle cx="1208" cy="552.3" r="2.05" fill="#556b2f"/>
<circle cx="1232.9" cy="552.3" r="2.05" fill="#556b2f"/>
<circle cx="1243.9" cy="557.3" r="2.05" fill="#556b2f"/>
<circle cx="1223.4" cy="562.4" r="2.05" fill="#556b2f"/>
<circle cx="1241.6" cy="576.8" r="2.05" fill="#556b2f"/>
<circle cx="1242.3" cy="574.3" r="2.05" fill="#556b2f"/>
<path d="M1082.9 481.87C1084.99 482.65 1091.27 485.02 1095.45 486.54C1099.63 488.06 1103.83 489.52 1108.01 491.01C1112.19 492.5 1116.38 493.97 1120.56 495.49C1124.74 497.01 1128.93 498.54 1133.12 500.16C1137.3 501.78 1141.49 503.43 1145.67 505.21C1149.85 506.99 1154.04 508.84 1158.22 510.84C1162.4 512.84 1166.6 514.96 1170.78 517.21C1174.96 519.46 1179.15 521.84 1183.33 524.32C1187.51 526.8 1191.7 529.41 1195.88 532.1C1200.07 534.79 1204.26 537.59 1208.44 540.47C1212.62 543.35 1216.81 546.33 1220.99 549.37C1225.17 552.41 1229.37 555.54 1233.55 558.72C1237.73 561.9 1244.01 566.83 1246.1 568.45" fill="none" stroke="#556b2f" stroke-width="6.2" stroke-linecap="round" stroke-linejoin="round"/>
<rect x="1062.6" y="457.2" width="214.9" height="147.2" fill="none" stroke="#000" stroke-width="3"/>
<line x1="1070" y1="604.4" x2="1070" y2="608.8" stroke="#000" stroke-width="2.8" stroke-linecap="butt"/>
<text class="r" x="1070" y="627" text-anchor="middle">0</text>
<line x1="1135.75" y1="604.4" x2="1135.75" y2="608.8" stroke="#000" stroke-width="2.8" stroke-linecap="butt"/>
<text class="r" x="1135.75" y="627" text-anchor="middle">0.1</text>
<line x1="1202.5" y1="604.4" x2="1202.5" y2="608.8" stroke="#000" stroke-width="2.8" stroke-linecap="butt"/>
<text class="r" x="1202.5" y="627" text-anchor="middle">3</text>
<line x1="1268.4" y1="604.4" x2="1268.4" y2="608.8" stroke="#000" stroke-width="2.8" stroke-linecap="butt"/>
<text class="r" x="1268.4" y="627" text-anchor="middle">90</text>
<text class="r" x="1170.2" y="648.75" text-anchor="middle">Age (years)</text>
<line x1="1058.2" y1="462.5" x2="1062.6" y2="462.5" stroke="#000" stroke-width="2.8" stroke-linecap="butt"/>
<text class="r" x="1053.75" y="462.5" text-anchor="middle" transform="rotate(-90 1053.75 462.5)">2</text>
<line x1="1058.2" y1="495.5" x2="1062.6" y2="495.5" stroke="#000" stroke-width="2.8" stroke-linecap="butt"/>
<text class="r" x="1053.75" y="495.5" text-anchor="middle" transform="rotate(-90 1053.75 495.5)">1</text>
<line x1="1058.2" y1="528.9" x2="1062.6" y2="528.9" stroke="#000" stroke-width="2.8" stroke-linecap="butt"/>
<text class="r" x="1053.75" y="528.9" text-anchor="middle" transform="rotate(-90 1053.75 528.9)">0</text>
<line x1="1058.2" y1="562.3" x2="1062.6" y2="562.3" stroke="#000" stroke-width="2.8" stroke-linecap="butt"/>
<line x1="1058.2" y1="595.6" x2="1062.6" y2="595.6" stroke="#000" stroke-width="2.8" stroke-linecap="butt"/>
<text class="r" x="1053.75" y="595.6" text-anchor="middle" transform="rotate(-90 1053.75 595.6)">−2</text>
<text class="r" x="1031" y="529.5" text-anchor="middle" transform="rotate(-90 1031 529.5)">Expression level</text>
<text class="bi" x="1162.9" y="445.7" text-anchor="middle" filter="url(#emb)">EGR3</text>
</g>
</g>
</svg>
</body></html>
